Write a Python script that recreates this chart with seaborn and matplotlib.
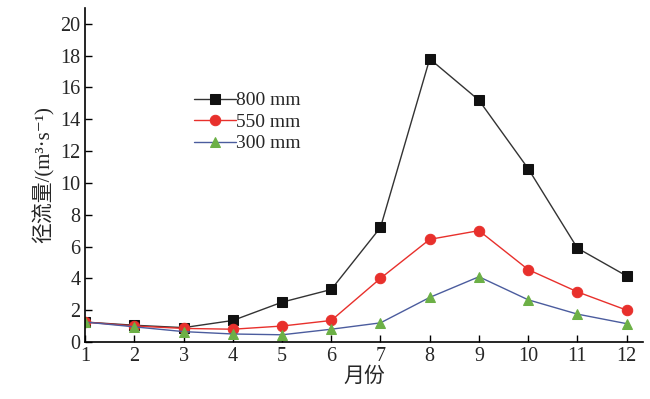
import numpy as np
import pandas as pd
import matplotlib
matplotlib.use("Agg")
import matplotlib.pyplot as plt
import seaborn as sns

# Data
months = list(range(1, 13))
flow_800 = [1.25, 1.05, 0.9, 1.35, 2.5, 3.3, 7.2, 17.8, 15.2, 10.9, 5.9, 4.15]
flow_550 = [1.25, 1.0, 0.85, 0.8, 1.0, 1.35, 4.0, 6.45, 7.0, 4.55, 3.15, 2.0]
flow_300 = [1.25, 0.95, 0.65, 0.5, 0.45, 0.8, 1.2, 2.8, 4.1, 2.65, 1.75, 1.15]
series_names = ["800 mm", "550 mm", "300 mm"]

df = pd.DataFrame({
    "month": months * 3,
    "flow": flow_800 + flow_550 + flow_300,
    "rain": np.repeat(series_names, len(months)),
})

sns.set_style("ticks")
plt.rcParams["font.family"] = ["Liberation Serif", "Noto Sans CJK SC", "DejaVu Sans"]
plt.rcParams["xtick.direction"] = "in"
plt.rcParams["ytick.direction"] = "in"

fig = plt.figure(figsize=(6.5, 3.99), dpi=100)
ax = fig.add_axes([0.131, 0.143, 0.858, 0.837])

styles = {
    "800 mm": dict(line="#333333", marker="s", face="#111111", edge="#111111", size=6.5),
    "550 mm": dict(line="#e8302c", marker="o", face="#e8302c", edge="#e8302c", size=7.5),
    "300 mm": dict(line="#4b5c9e", marker="^", face="#6cb046", edge="#6cb046", size=7.5),
}

for name in series_names:
    st = styles[name]
    sub = df[df["rain"] == name]
    sns.lineplot(
        data=sub, x="month", y="flow", ax=ax,
        color=st["line"], linewidth=1.0,
        marker=st["marker"], markersize=st["size"],
        markerfacecolor=st["face"], markeredgecolor=st["edge"],
        label=name,
    )

ax.set_xlim(1, 12.33)
ax.set_ylim(0, 21)
ax.set_xticks(months)
ax.set_yticks(range(0, 21, 2))
ax.tick_params(axis="both", labelsize=14.5, length=5, width=1, color="black")
for side in ["top", "right"]:
    ax.spines[side].set_visible(False)
for side in ["left", "bottom"]:
    ax.spines[side].set_linewidth(1.2)
    ax.spines[side].set_color("black")

ax.set_xlabel("月份", fontsize=15, labelpad=1)
ax.set_ylabel("径流量/(m³·s⁻¹)", fontsize=15, labelpad=4)

ax.legend(
    loc="upper left", bbox_to_anchor=(0.17, 0.79), frameon=False,
    fontsize=14, handlelength=2.2, handletextpad=0.0,
    labelspacing=0.2, borderpad=0.2,
)

fig.savefig("out.png", dpi=100)
